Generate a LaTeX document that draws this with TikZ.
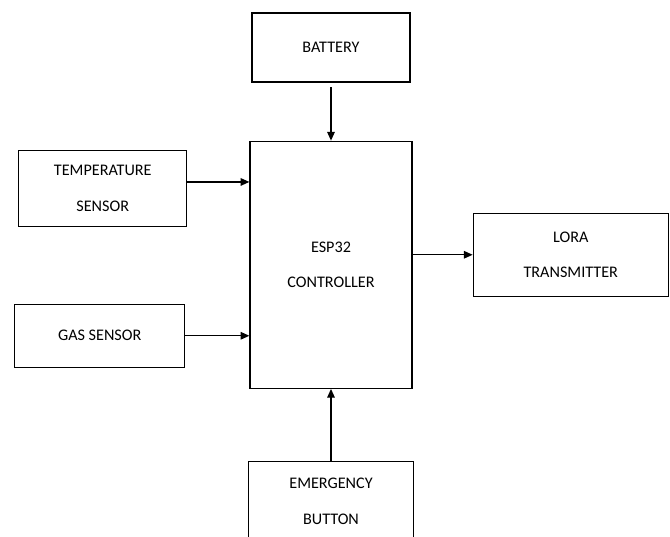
\documentclass[tikz,border=0pt]{standalone}
\usepackage{fontspec}
\setmainfont{Carlito}
\usepackage{tikz}
\usetikzlibrary{positioning,arrows.meta}

\begin{document}
\begin{tikzpicture}[every node/.style={rectangle, draw, line width=0.9pt, align=center, font=\fontsize{11.5}{25.5}\selectfont, text=black}, arr/.style={-{Triangle[length=2.2mm,width=1.9mm]}, line width=0.9pt}]
    \useasboundingbox (0,0) rectangle (16.75,-13.4);
    \clip (0,0) rectangle (16.75,-13.4);

    \node (battery) [minimum width=3.95cm, minimum height=1.725cm] at (8.275,-1.1875) {BATTERY};
    \node (esp) [below=1.45cm of battery, minimum width=4.05cm, minimum height=6.175cm] {ESP32\\CONTROLLER};
    \node (temp) [left=1.55cm of esp, yshift=1.9cm, minimum width=4.2cm, minimum height=1.9cm] {TEMPERATURE\\SENSOR};
    \node (gas) [left=1.6cm of esp, yshift=-1.775cm, minimum width=4.25cm, minimum height=1.575cm] {GAS SENSOR};
    \node (lora) [right=1.5cm of esp, yshift=0.25cm, minimum width=4.875cm, minimum height=2.075cm] {LORA\\TRANSMITTER};
    \node (emerg) [below=1.8cm of esp, minimum width=4.125cm, minimum height=2cm] {EMERGENCY\\BUTTON};

    \draw[arr, shorten <=1.2mm] (battery.south) -- (battery.south |- esp.north);
    \draw[arr] ([yshift=1.7mm]temp.east) -- ([yshift=1.7mm]temp.east -| esp.west);
    \draw[arr] (gas.east) -- (gas.east -| esp.west);
    \draw[arr] (lora.west -| esp.east) -- (lora.west);
    \draw[arr] (emerg.north) -- (emerg.north |- esp.south);
\end{tikzpicture}
\end{document}
